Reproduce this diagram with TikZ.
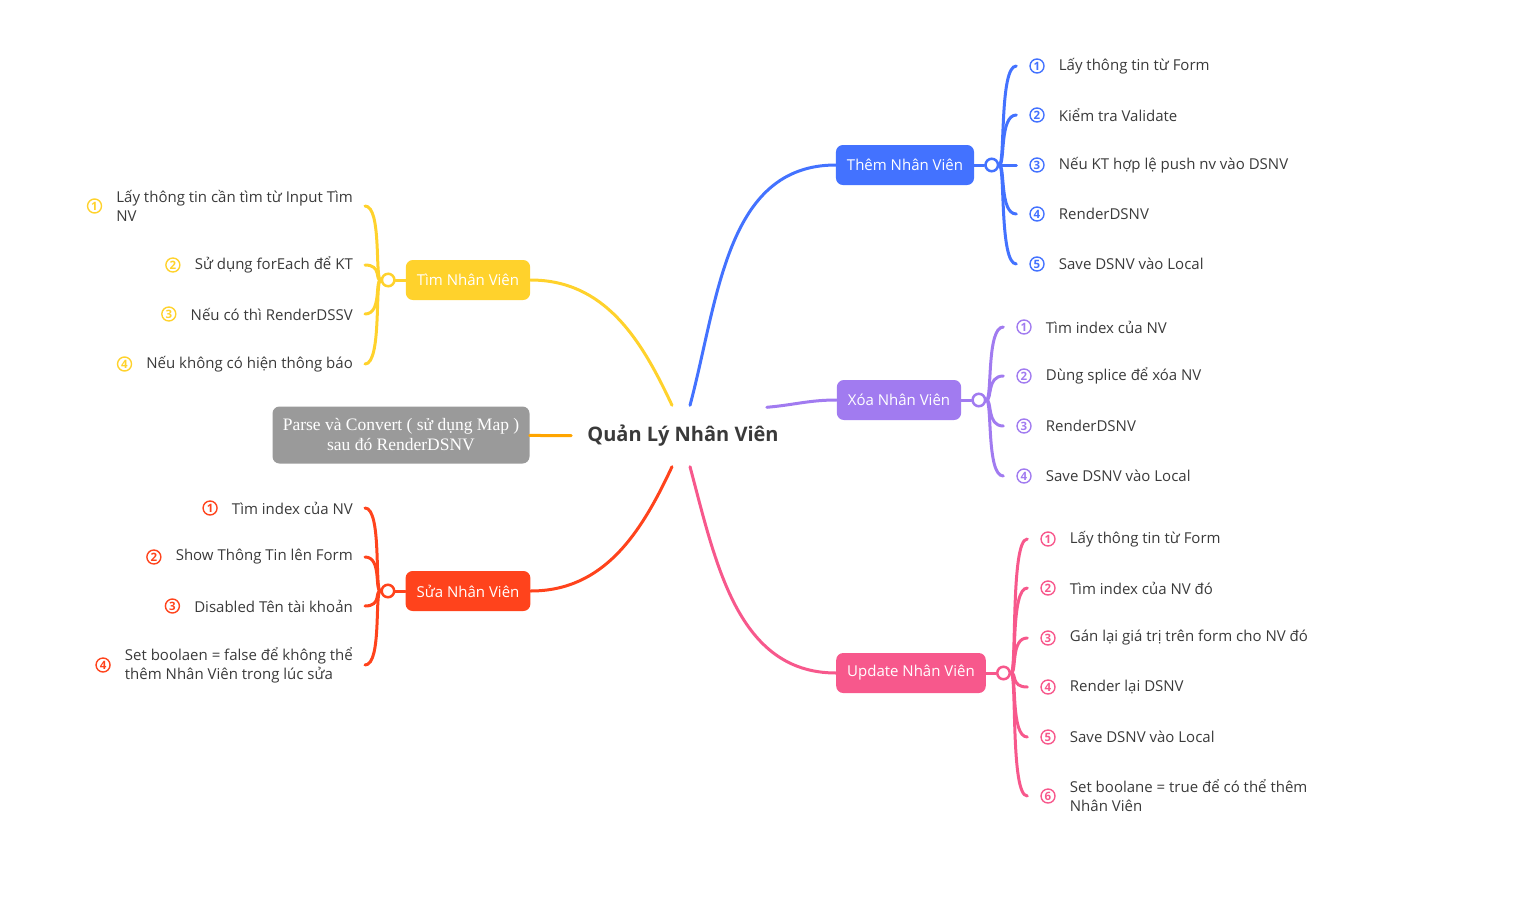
\documentclass[tikz,border=0pt]{standalone}
\usepackage{fontspec}
\setmainfont{Open Sans}
\newfontfamily\boxserif{Liberation Serif}
\usetikzlibrary{positioning}

\definecolor{addblue}{HTML}{4372FF}
\definecolor{findyellow}{HTML}{FFD22C}
\definecolor{delpurple}{HTML}{A17BF0}
\definecolor{editred}{HTML}{FF431C}
\definecolor{updpink}{HTML}{F7588C}
\definecolor{boxgray}{HTML}{9A9A9A}
\definecolor{linkorange}{HTML}{FFA500}
\definecolor{txt}{HTML}{3A3A3A}

\begin{document}
\begin{tikzpicture}[x=1pt, y=1pt, line cap=round, node distance=14pt,
    main/.style = {rectangle, rounded corners=7pt, text=white, minimum height=40pt, inner xsep=11pt, font=\fontsize{15}{18}\selectfont},
    hub/.style = {circle, draw, fill=white, line width=2.5pt, minimum size=12.5pt, inner sep=0pt},
    num/.style = {circle, draw, line width=1.4pt, minimum size=14pt, inner sep=0pt, font=\bfseries\fontsize{11.5}{11.5}\selectfont},
    leaf/.style = {inner sep=0pt, text=txt, font=\fontsize{15}{19}\selectfont, align=left},
    link/.style = {line width=3pt}
    ]
\useasboundingbox (0,0) rectangle (1530,-899);

\node[text=txt, inner xsep=16pt, minimum height=61pt, font=\bfseries\fontsize{20}{24}\selectfont] (0) at (683,-436) {Quản Lý Nhân Viên};

\node[main, fill=addblue] (1) at (905,-165) {Thêm Nhân Viên};
\node[main, fill=delpurple] (2) at (899,-400) {Xóa Nhân Viên};
\node[main, fill=updpink] (3) at (911,-673) {Update Nhân Viên};
\node[main, fill=findyellow] (4) at (468,-280) {Tìm Nhân Viên};
\node[main, fill=editred] (5) at (468,-591) {Sửa Nhân Viên};
\node[rectangle, rounded corners=7pt, fill=boxgray, text=white, minimum width=257pt, minimum height=57pt, align=center, font=\boxserif\fontsize{17.5}{20}\selectfont] (6) at (401,-435) {Parse và Convert ( sử dụng Map )\\sau đó RenderDSNV};

\draw[link, addblue] ([xshift=7pt]0.north) to[out=75,in=180] (1);
\draw[link, delpurple] ([xshift=-28pt,yshift=-2pt]0.north east) to[out=5,in=180] (2);
\draw[link, updpink] ([xshift=7pt]0.south) to[out=-75,in=180] (3);
\draw[link, findyellow] ([xshift=-11pt]0.north) to[out=115,in=0] (4);
\draw[link, editred] ([xshift=-11pt]0.south) to[out=-115,in=0] (5);
\draw[link, linkorange] (0) -- (6);

\node[hub, draw=addblue] (h1) [right=10pt of 1] {};
\node[hub, draw=delpurple] (h2) [right=10pt of 2] {};
\node[hub, draw=updpink] (h3) [right=10pt of 3] {};
\node[hub, draw=findyellow] (h4) [left=10pt of 4] {};
\node[hub, draw=editred] (h5) [left=10pt of 5] {};

\draw[link, addblue] (1) -- (h1);
\draw[link, delpurple] (2) -- (h2);
\draw[link, updpink] (3) -- (h3);
\draw[link, findyellow] (4) -- (h4);
\draw[link, editred] (5) -- (h5);

% Them Nhan Vien
\node[num, draw=addblue, text=addblue] (n11) at (1037,-66) {1};
\node[num, draw=addblue, text=addblue] (n12) at (1037,-115) {2};
\node[num, draw=addblue, text=addblue] (n13) at (1037,-165) {3};
\node[num, draw=addblue, text=addblue] (n14) at (1037,-214) {4};
\node[num, draw=addblue, text=addblue] (n15) at (1037,-264) {5};
\node[leaf] (11) [right=of n11] {Lấy thông tin từ Form};
\node[leaf] (12) [right=of n12] {Kiểm tra Validate};
\node[leaf] (13) [right=of n13] {Nếu KT hợp lệ push nv vào DSNV};
\node[leaf] (14) [right=of n14] {RenderDSNV};
\node[leaf] (15) [right=of n15] {Save DSNV vào Local};
\draw[link, addblue] (h1.east) .. controls +(6,0) and +(-17,0) .. ([xshift=-13pt]n11.west);
\draw[link, addblue] (h1.east) .. controls +(6,0) and +(-17,0) .. ([xshift=-13pt]n12.west);
\draw[link, addblue] (h1.east) -- ([xshift=-13pt]n13.west);
\draw[link, addblue] (h1.east) .. controls +(6,0) and +(-17,0) .. ([xshift=-13pt]n14.west);
\draw[link, addblue] (h1.east) .. controls +(6,0) and +(-17,0) .. ([xshift=-13pt]n15.west);

% Xoa Nhan Vien
\node[num, draw=delpurple, text=delpurple] (n21) at (1024,-327) {1};
\node[num, draw=delpurple, text=delpurple] (n22) at (1024,-376) {2};
\node[num, draw=delpurple, text=delpurple] (n23) at (1024,-426) {3};
\node[num, draw=delpurple, text=delpurple] (n24) at (1024,-476) {4};
\node[leaf] (21) [right=of n21] {Tìm index của NV};
\node[leaf] (22) [right=of n22] {Dùng splice để xóa NV};
\node[leaf] (23) [right=of n23] {RenderDSNV};
\node[leaf] (24) [right=of n24] {Save DSNV vào Local};
\draw[link, delpurple] (h2.east) .. controls +(6,0) and +(-17,0) .. ([xshift=-13pt]n21.west);
\draw[link, delpurple] (h2.east) .. controls +(6,0) and +(-17,0) .. ([xshift=-13pt]n22.west);
\draw[link, delpurple] (h2.east) .. controls +(6,0) and +(-17,0) .. ([xshift=-13pt]n23.west);
\draw[link, delpurple] (h2.east) .. controls +(6,0) and +(-17,0) .. ([xshift=-13pt]n24.west);

% Update Nhan Vien
\node[num, draw=updpink, text=updpink] (n31) at (1048,-539) {1};
\node[num, draw=updpink, text=updpink] (n32) at (1048,-588) {2};
\node[num, draw=updpink, text=updpink] (n33) at (1048,-638) {3};
\node[num, draw=updpink, text=updpink] (n34) at (1048,-687) {4};
\node[num, draw=updpink, text=updpink] (n35) at (1048,-737) {5};
\node[num, draw=updpink, text=updpink] (n36) at (1048,-796) {6};
\node[leaf] (31) [right=of n31] {Lấy thông tin từ Form};
\node[leaf] (32) [right=of n32] {Tìm index của NV đó};
\node[leaf] (33) [right=of n33] {Gán lại giá trị trên form cho NV đó};
\node[leaf] (34) [right=of n34] {Render lại DSNV};
\node[leaf] (35) [right=of n35] {Save DSNV vào Local};
\node[leaf] (36) [right=of n36] {Set boolane = true để có thể thêm\\Nhân Viên};
\draw[link, updpink] (h3.east) .. controls +(6,0) and +(-17,0) .. ([xshift=-13pt]n31.west);
\draw[link, updpink] (h3.east) .. controls +(6,0) and +(-17,0) .. ([xshift=-13pt]n32.west);
\draw[link, updpink] (h3.east) .. controls +(6,0) and +(-17,0) .. ([xshift=-13pt]n33.west);
\draw[link, updpink] (h3.east) .. controls +(6,0) and +(-17,0) .. ([xshift=-13pt]n34.west);
\draw[link, updpink] (h3.east) .. controls +(6,0) and +(-17,0) .. ([xshift=-13pt]n35.west);
\draw[link, updpink] (h3.east) .. controls +(6,0) and +(-17,0) .. ([xshift=-13pt]n36.west);

% Tim Nhan Vien
\node[leaf, anchor=east] (41) at (353,-206) {Lấy thông tin cần tìm từ Input Tìm\\NV};
\node[leaf, anchor=east] (42) at (353,-265) {Sử dụng forEach để KT};
\node[leaf, anchor=east] (43) at (353,-314) {Nếu có thì RenderDSSV};
\node[leaf, anchor=east] (44) at (353,-364) {Nếu không có hiện thông báo};
\node[num, draw=findyellow, text=findyellow] (n41) [left=of 41] {1};
\node[num, draw=findyellow, text=findyellow] (n42) [left=of 42] {2};
\node[num, draw=findyellow, text=findyellow] (n43) [left=of 43] {3};
\node[num, draw=findyellow, text=findyellow] (n44) [left=of 44] {4};
\draw[link, findyellow] (h4.west) .. controls +(-6,0) and +(17,0) .. ([xshift=12pt]41.east);
\draw[link, findyellow] (h4.west) .. controls +(-6,0) and +(17,0) .. ([xshift=12pt]42.east);
\draw[link, findyellow] (h4.west) .. controls +(-6,0) and +(17,0) .. ([xshift=12pt]43.east);
\draw[link, findyellow] (h4.west) .. controls +(-6,0) and +(17,0) .. ([xshift=12pt]44.east);

% Sua Nhan Vien
\node[leaf, anchor=east] (51) at (353,-508) {Tìm index của NV};
\node[leaf, anchor=east] (52) at (353,-557) {Show Thông Tin lên Form};
\node[leaf, anchor=east] (53) at (353,-606) {Disabled Tên tài khoản};
\node[leaf, anchor=east] (54) at (353,-665) {Set boolaen = false để không thể\\thêm Nhân Viên trong lúc sửa};
\node[num, draw=editred, text=editred] (n51) [left=of 51] {1};
\node[num, draw=editred, text=editred] (n52) [left=of 52] {2};
\node[num, draw=editred, text=editred] (n53) [left=of 53] {3};
\node[num, draw=editred, text=editred] (n54) [left=of 54] {4};
\draw[link, editred] (h5.west) .. controls +(-6,0) and +(17,0) .. ([xshift=12pt]51.east);
\draw[link, editred] (h5.west) .. controls +(-6,0) and +(17,0) .. ([xshift=12pt]52.east);
\draw[link, editred] (h5.west) .. controls +(-6,0) and +(17,0) .. ([xshift=12pt]53.east);
\draw[link, editred] (h5.west) .. controls +(-6,0) and +(17,0) .. ([xshift=12pt]54.east);

\end{tikzpicture}
\end{document}
